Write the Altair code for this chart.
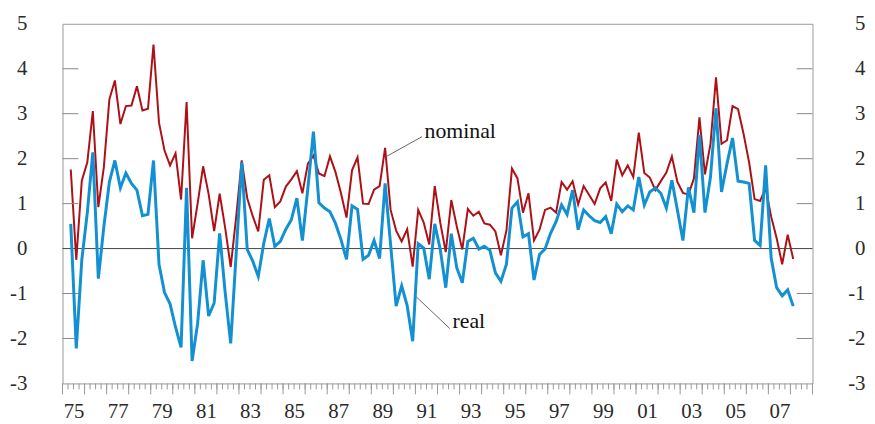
import altair as alt
import pandas as pd

# Quarterly observations, first = 1975Q2, last = 2008Q1 (plotted mid-quarter)
nominal = [
    1.76, -0.25, 1.51, 1.92, 3.06, 0.92, 1.81, 3.32, 3.74, 2.77,
    3.17, 3.18, 3.61, 3.07, 3.11, 4.54, 2.80, 2.18, 1.85, 2.12,
    1.09, 3.26, 0.23, 1.00, 1.83, 1.21, 0.39, 1.22, 0.46, -0.41,
    0.71, 1.96, 1.12, 0.72, 0.38, 1.53, 1.63, 0.92, 1.05, 1.38,
    1.54, 1.72, 1.23, 1.89, 2.07, 1.67, 1.61, 2.05, 1.70, 1.23,
    0.69, 1.74, 2.03, 1.00, 0.99, 1.31, 1.39, 2.24, 0.86, 0.40,
    0.16, 0.43, -0.40, 0.86, 0.58, 0.09, 1.39, 0.58, -0.08, 1.08,
    0.49, -0.02, 0.88, 0.73, 0.82, 0.56, 0.53, 0.38, -0.15, 0.40,
    1.78, 1.56, 0.80, 1.23, 0.18, 0.42, 0.86, 0.91, 0.80, 1.48,
    1.31, 1.50, 0.98, 1.39, 1.19, 0.99, 1.34, 1.47, 1.06, 1.98,
    1.63, 1.85, 1.59, 2.58, 1.68, 1.58, 1.30, 1.50, 1.69, 2.05,
    1.48, 1.24, 1.20, 1.56, 2.92, 1.65, 2.33, 3.81, 2.33, 2.41,
    3.17, 3.10, 2.55, 1.92, 1.10, 1.06, 1.34, 0.71, 0.23, -0.35,
    0.31, -0.23,
]
real = [
    0.55, -2.22, -0.25, 0.80, 2.14, -0.67, 0.49, 1.48, 1.96, 1.35,
    1.68, 1.45, 1.30, 0.73, 0.76, 1.96, -0.35, -0.98, -1.23, -1.75,
    -2.20, 1.35, -2.50, -1.67, -0.26, -1.50, -1.21, 0.34, -0.98, -2.11,
    -0.10, 1.92, -0.02, -0.28, -0.62, 0.12, 0.67, 0.05, 0.16, 0.43,
    0.64, 1.12, 0.18, 1.35, 2.60, 1.02, 0.90, 0.82, 0.56, 0.20,
    -0.24, 0.95, 0.87, -0.24, -0.15, 0.18, -0.22, 1.45, 0.08, -1.28,
    -0.83, -1.27, -2.06, 0.11, 0.01, -0.68, 0.55, -0.02, -0.87, 0.33,
    -0.43, -0.76, 0.16, 0.23, -0.01, 0.05, -0.04, -0.54, -0.73, -0.35,
    0.90, 1.04, 0.26, 0.33, -0.70, -0.13, -0.01, 0.34, 0.60, 0.97,
    0.76, 1.30, 0.42, 0.86, 0.73, 0.62, 0.58, 0.71, 0.33, 0.99,
    0.82, 0.95, 0.86, 1.59, 0.97, 1.26, 1.35, 1.23, 0.90, 1.52,
    0.86, 0.18, 1.36, 0.80, 2.53, 0.80, 1.59, 3.12, 1.26, 1.89,
    2.46, 1.50, 1.48, 1.45, 0.18, 0.07, 1.85, -0.21, -0.87, -1.05,
    -0.92, -1.28,
]
first_obs = 1975.375
t = [first_obs + 0.25 * i for i in range(len(nominal))]

y_label_values = [-3, -2, -1, 0, 1, 2, 3, 4, 5]
y_inner_ticks = [-2, -1, 1, 2, 3, 4]
x_label_years = list(range(1975, 2008, 2))
x_label_pos = [y + 0.5 for y in x_label_years]
quarter_ticks = [1975 + 0.25 * q for q in range(137)]
year_ticks = list(range(1975, 2010))

ann_label = ["nominal", "real"]
ann_x = [1991.41, 1992.68]
ann_y = [2.47, -1.77]
lead_x1 = [1989.69, 1991.03]
lead_y1 = [2.05, -1.07]
lead_x2 = [1991.30, 1992.56]
lead_y2 = [2.49, -1.78]

W, H = 757, 363
FONT = "Liberation Serif"
RED = "#AD1016"
BLUE = "#1290D2"

xscale = alt.Scale(domain=[1975, 2009], nice=False, zero=False)
yscale = alt.Scale(domain=[-3, 5], nice=False, zero=False)

df_nom = pd.DataFrame({"t": t, "value": nominal})
df_real = pd.DataFrame({"t": t, "value": real})

x_axis = alt.Axis(values=x_label_pos,
                  labelExpr="slice('' + floor(datum.value), 2)",
                  ticks=False, domain=False, grid=False, title=None,
                  labelPadding=17, labelFlush=False, labelOverlap=False)
y_axis_left = alt.Axis(values=y_label_values, ticks=False, domain=False, grid=False,
                       title=None, labelPadding=36, labelExpr="'' + datum.value")
y_axis_right = alt.Axis(orient="right", values=y_label_values, ticks=False, domain=False,
                        grid=False, title=None, labelPadding=53, labelAlign="right",
                        labelExpr="'' + datum.value")

nom_line = alt.Chart(df_nom).mark_line(color=RED, strokeWidth=2).encode(
    x=alt.X("t:Q", scale=xscale, axis=x_axis),
    y=alt.Y("value:Q", scale=yscale, axis=y_axis_left),
)
real_line = alt.Chart(df_real).mark_line(color=BLUE, strokeWidth=3).encode(
    x=alt.X("t:Q", scale=xscale, axis=None),
    y=alt.Y("value:Q", scale=yscale, axis=None),
)

zero = alt.Chart(pd.DataFrame({"z": [0]})).mark_rule(color="#444", strokeWidth=1).encode(
    y=alt.Y("z:Q", scale=yscale, axis=None)
)

tick_df = pd.DataFrame({"v": y_inner_ticks})
left_ticks = alt.Chart(tick_df).mark_rule(color="#888", strokeWidth=1).encode(
    y=alt.Y("v:Q", scale=yscale, axis=None),
    x=alt.value(0), x2=alt.value(16),
)
right_ticks = alt.Chart(tick_df).mark_rule(color="#888", strokeWidth=1).encode(
    y=alt.Y("v:Q", scale=yscale, axis=y_axis_right),
    x=alt.value(W - 16), x2=alt.value(W),
)

q_ticks = alt.Chart(pd.DataFrame({"q": quarter_ticks})).mark_rule(color="#999", strokeWidth=1).encode(
    x=alt.X("q:Q", scale=xscale, axis=None),
    y=alt.value(H), y2=alt.value(H + 6),
)
yr_ticks = alt.Chart(pd.DataFrame({"q": year_ticks})).mark_rule(color="#999", strokeWidth=1).encode(
    x=alt.X("q:Q", scale=xscale, axis=None),
    y=alt.value(H), y2=alt.value(H + 11),
)

lead_df = pd.DataFrame({"x1": lead_x1, "y1": lead_y1, "x2": lead_x2, "y2": lead_y2})
leaders = alt.Chart(lead_df).mark_rule(color="#666", strokeWidth=1).encode(
    x=alt.X("x1:Q", scale=xscale, axis=None),
    y=alt.Y("y1:Q", scale=yscale, axis=None),
    x2="x2:Q", y2="y2:Q",
)
ann_df = pd.DataFrame({"label": ann_label, "x": ann_x, "y": ann_y})
ann = alt.Chart(ann_df).mark_text(align="left", baseline="alphabetic", font=FONT,
                                  fontSize=22, color="#111").encode(
    x=alt.X("x:Q", scale=xscale, axis=None),
    y=alt.Y("y:Q", scale=yscale, axis=None),
    text="label:N",
)

chart = alt.layer(
    nom_line, zero, left_ticks, right_ticks, q_ticks, yr_ticks, leaders, ann, real_line
).resolve_scale(y="shared", x="shared").resolve_axis(y="independent", x="independent").properties(
    width=W, height=H,
    padding={"left": 55, "top": 14, "right": 55, "bottom": 39},
    autosize=alt.AutoSizeParams(type="none"),
    background="white",
).configure_view(stroke="#999", strokeWidth=1).configure_axis(
    labelFont=FONT, labelFontSize=21, labelColor="#2a2a2a"
)

chart.save("out.html", embed_options={"renderer": "svg", "actions": False})
